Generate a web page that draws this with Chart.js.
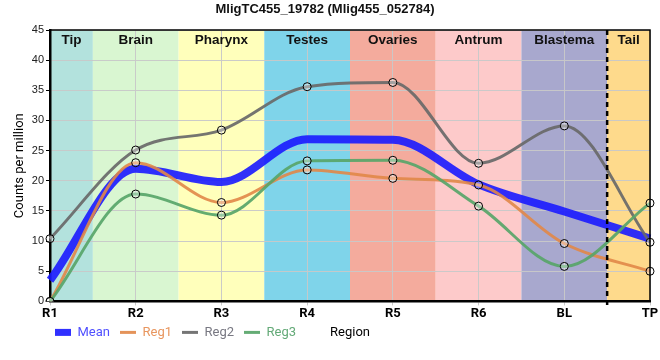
<!DOCTYPE html>
<html>
<head>
<meta charset="utf-8">
<script src="https://cdn.jsdelivr.net/npm/chart.js@4.4.1/dist/chart.umd.min.js"></script>
<style>
  html, body { margin: 0; padding: 0; background: #ffffff; }
  #wrap { width: 660px; height: 360px; }
</style>
</head>
<body>
<div id="wrap"><canvas id="c" width="660" height="360"></canvas></div>
<script>
// ---- data ----
const categories = ['R1', 'R2', 'R3', 'R4', 'R5', 'R6', 'BL', 'TP'];
const meanValues = [3.5, 22.0, 19.8, 26.9, 26.8, 19.4, 14.9, 10.4];
const reg1Values = [0, 23.0, 16.4, 21.8, 20.4, 19.3, 9.6, 5.0];
const reg2Values = [10.4, 25.1, 28.4, 35.6, 36.3, 22.9, 29.1, 9.8];
const reg3Values = [0, 17.8, 14.3, 23.3, 23.4, 15.8, 5.8, 16.3];
const regionNames = ['Tip', 'Brain', 'Pharynx', 'Testes', 'Ovaries', 'Antrum', 'Blastema', 'Tail'];
const regionStart = [0, 0.5, 1.5, 2.5, 3.5, 4.5, 5.5, 6.5];
const regionEnd   = [0.5, 1.5, 2.5, 3.5, 4.5, 5.5, 6.5, 7];
const tailBoundary = 6.5;
const yMin = 0, yMax = 45, yStep = 5;

// ---- styles ----
const regionColors = ['#b3e2dd', '#d9f6d1', '#ffffbb', '#7fd4ea', '#f4ab9d', '#fdcaca', '#a8a8ce', '#feda8c'];
const colMean = 'rgba(25,25,255,0.9)';
const colReg1 = 'rgba(225,135,72,0.9)';
const colReg2 = 'rgba(105,105,105,0.92)';
const colReg3 = 'rgba(88,165,105,0.92)';
const legendTextColors = ['rgba(80,80,255,1)', 'rgba(232,150,95,1)', 'rgba(120,120,130,1)', 'rgba(100,170,120,1)'];
const gridCol = 'rgba(200,200,200,0.95)';

const bandPlugin = {
  id: 'bands',
  afterLayout(chart) {
    if (chart.legend) {
      chart.legend.left = 45;
      chart.legend.top = chart.chartArea.bottom + 14.5;
    }
  },
  beforeDraw(chart) {
    const { ctx, chartArea: { top, bottom }, scales: { x } } = chart;
    ctx.save();
    for (let i = 0; i < regionNames.length; i++) {
      const x0 = x.getPixelForValue(regionStart[i]);
      const x1 = x.getPixelForValue(regionEnd[i]);
      ctx.fillStyle = regionColors[i];
      ctx.fillRect(x0, top, x1 - x0, bottom - top);
    }
    ctx.restore();
  },
  beforeDatasetsDraw(chart) {
    const { ctx, chartArea: { top }, scales: { x } } = chart;
    ctx.save();
    ctx.font = 'bold 13.5px "Liberation Sans", Arial, sans-serif';
    ctx.fillStyle = '#111';
    ctx.textAlign = 'center';
    ctx.textBaseline = 'top';
    for (let i = 0; i < regionNames.length; i++) {
      const cx = (x.getPixelForValue(regionStart[i]) + x.getPixelForValue(regionEnd[i])) / 2;
      ctx.fillText(regionNames[i], cx, top + 4);
    }
    ctx.restore();
  },
  afterDatasetsDraw(chart) {
    const { ctx, chartArea: { top, bottom }, scales: { x } } = chart;
    const px = x.getPixelForValue(tailBoundary);
    ctx.save();
    ctx.strokeStyle = '#000';
    ctx.lineWidth = 2.5;
    ctx.setLineDash([5, 4]);
    ctx.beginPath();
    ctx.moveTo(px, top);
    ctx.lineTo(px, bottom + 5);
    ctx.stroke();
    ctx.restore();
  },
  afterDraw(chart) {
    const { ctx, chartArea: { left, right, top, bottom } } = chart;
    ctx.save();
    ctx.strokeStyle = '#000';
    ctx.lineWidth = 1.5;
    ctx.beginPath();
    ctx.moveTo(left, top);
    ctx.lineTo(right, top);
    ctx.lineTo(right, bottom);
    ctx.stroke();
    ctx.font = '13px Roboto, sans-serif';
    ctx.fillStyle = '#000';
    ctx.textAlign = 'center';
    ctx.textBaseline = 'middle';
    const ly = chart.legend ? chart.legend.top + 10 + 6.5 : bottom + 31;
    ctx.fillText('Region', (left + right) / 2, ly);
    ctx.restore();
  }
};

const common = { tension: 0.4, cubicInterpolationMode: 'monotone', fill: false };
const pointStyle = { pointRadius: 4, pointBorderWidth: 1, pointBorderColor: '#000', pointBackgroundColor: 'rgba(255,255,255,0.35)' };

new Chart(document.getElementById('c'), {
  type: 'line',
  data: {
    labels: categories,
    datasets: [
      Object.assign({ label: 'Mean', data: meanValues, borderColor: colMean, backgroundColor: colMean, borderWidth: 8, pointRadius: 0, order: 4 }, common),
      Object.assign({ label: 'Reg1', data: reg1Values, borderColor: colReg1, backgroundColor: colReg1, borderWidth: 3, order: 3 }, common, pointStyle),
      Object.assign({ label: 'Reg2', data: reg2Values, borderColor: colReg2, backgroundColor: colReg2, borderWidth: 3, order: 2 }, common, pointStyle),
      Object.assign({ label: 'Reg3', data: reg3Values, borderColor: colReg3, backgroundColor: colReg3, borderWidth: 3, order: 1 }, common, pointStyle)
    ]
  },
  options: {
    responsive: false,
    animation: false,
    devicePixelRatio: 1,
    layout: { padding: { left: 0, right: 10, top: 0, bottom: 4 } },
    plugins: {
      tooltip: { enabled: false },
      title: {
        display: true,
        text: 'MligTC455_19782 (Mlig455_052784)',
        color: '#111',
        font: { family: '"Liberation Sans", Arial, sans-serif', size: 13, weight: 'bold' },
        padding: { top: 2, bottom: 12.4 }
      },
      legend: {
        display: true,
        position: 'bottom',
        align: 'start',
        labels: {
          usePointStyle: true,
          pointStyleWidth: 16,
          boxHeight: 7,
          padding: 10,
          font: { family: 'Roboto, sans-serif', size: 13 },
          sort: (a, b) => a.datasetIndex - b.datasetIndex,
          generateLabels(chart) {
            const items = Chart.defaults.plugins.legend.labels.generateLabels(chart);
            items.forEach(it => {
              const i = it.datasetIndex;
              it.fontColor = legendTextColors[i];
              if (i === 0) {
                it.pointStyle = 'rect';
                it.fillStyle = colMean;
                it.strokeStyle = colMean;
                it.lineWidth = 0;
              } else {
                it.pointStyle = 'line';
                it.strokeStyle = chart.data.datasets[i].borderColor;
                it.lineWidth = 3;
              }
            });
            return items;
          }
        }
      }
    },
    scales: {
      x: {
        type: 'category',
        offset: false,
        grid: { color: gridCol, tickColor: gridCol, tickLength: 4, lineWidth: 1 },
        border: { color: '#000', width: 2.5 },
        ticks: { color: '#000', font: { family: 'Roboto, sans-serif', size: 13, weight: 'bold' }, padding: 1, maxRotation: 0, autoSkip: false }
      },
      y: {
        min: yMin,
        max: yMax,
        afterFit(scale) { scale.width = 50; },
        grid: { color: gridCol, tickColor: '#000', tickLength: 4, lineWidth: 1 },
        border: { color: '#000', width: 2.5 },
        ticks: { stepSize: yStep, color: '#222', font: { family: '"Liberation Sans", Arial, sans-serif', size: 11 }, padding: 2 },
        title: { display: true, text: 'Counts per million', color: '#000', font: { family: 'Roboto, sans-serif', size: 13 }, padding: { top: 12, bottom: 0 } }
      }
    }
  },
  plugins: [bandPlugin]
});
</script>
</body>
</html>
